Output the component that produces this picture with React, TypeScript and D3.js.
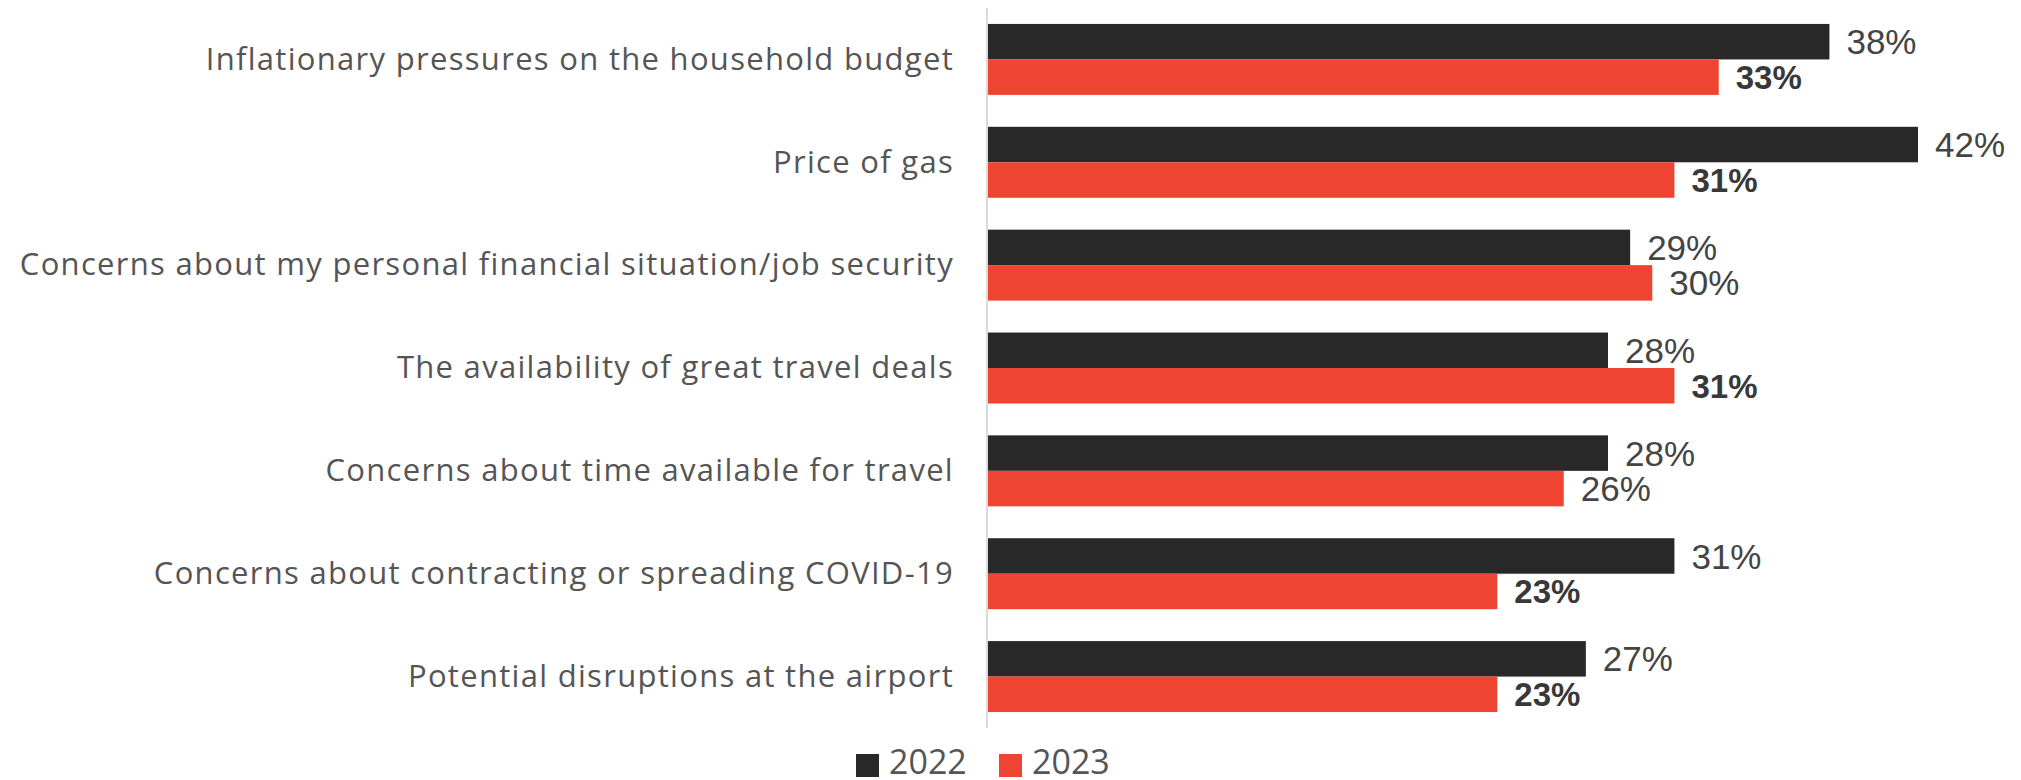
import { useEffect, useRef } from 'react';
import * as d3 from 'd3';

const categories = [
  'Inflationary pressures on the household budget',
  'Price of gas',
  'Concerns about my personal financial situation/job security',
  'The availability of great travel deals',
  'Concerns about time available for travel',
  'Concerns about contracting or spreading COVID-19',
  'Potential disruptions at the airport',
];
const values2022 = [38, 42, 29, 28, 28, 31, 27];
const values2023 = [33, 31, 30, 31, 26, 23, 23];
// 2023 labels shown in bold in the source
const bold2023 = [true, true, false, true, false, true, true];
const seriesNames = ['2022', '2023'];
const seriesColors = ['#282828', '#ee4431'];

const App = () => {
  const chartRef = useRef<SVGSVGElement>(null);

  useEffect(() => {
    if (!chartRef.current) return;
    d3.select(chartRef.current).selectAll('*').remove();

    const width = 2021;
    const height = 780;
    const labelFont = '"Open Sans", "DejaVu Sans", sans-serif';
    const valueFont = '"Liberation Sans", Arial, sans-serif';

    const svg = d3.select(chartRef.current).attr('width', width).attr('height', height);

    const y = d3.scaleBand<string>().domain(categories).range([8, 728]).paddingInner(0.31).paddingOuter(0.155);
    const sub = d3.scaleBand<string>().domain(seriesNames).range([0, y.bandwidth()]);
    const x = d3.scaleLinear().domain([0, 42]).range([988, 1918]);

    const rows = categories.map((c, i) => ({
      cat: c,
      vals: [values2022[i], values2023[i]],
      bold: [false, bold2023[i]],
    }));

    // axis line
    svg
      .append('line')
      .attr('x1', 987)
      .attr('x2', 987)
      .attr('y1', 8)
      .attr('y2', 728)
      .attr('stroke', '#dadada')
      .attr('stroke-width', 2);

    const g = svg
      .selectAll('g.row')
      .data(rows)
      .join('g')
      .attr('class', 'row')
      .attr('transform', (d) => `translate(0,${y(d.cat)})`);

    // category labels
    g.append('text')
      .attr('x', 954)
      .attr('y', y.bandwidth() / 2)
      .attr('dy', '0.33em')
      .attr('text-anchor', 'end')
      .attr('font-family', labelFont)
      .attr('font-size', 31)
      .attr('letter-spacing', 1.3)
      .attr('fill', '#555')
      .text((d) => d.cat);

    seriesNames.forEach((s, si) => {
      g.append('rect')
        .attr('x', x(0))
        .attr('y', sub(s)!)
        .attr('width', (d) => x(d.vals[si]) - x(0))
        .attr('height', sub.bandwidth())
        .attr('fill', seriesColors[si]);

      g.append('text')
        .attr('x', (d) => x(d.vals[si]) + 17)
        .attr('y', sub(s)! + sub.bandwidth() / 2)
        .attr('dy', '0.36em')
        .attr('font-family', valueFont)
        .attr('font-size', (d) => (d.bold[si] ? 33 : 35))
        .attr('font-weight', (d) => (d.bold[si] ? 700 : 400))
        .attr('fill', (d) => (d.bold[si] ? '#383838' : '#444'))
        .text((d) => `${d.vals[si]}%`);
    });

    // legend
    const legendX = [856, 999];
    const legend = svg
      .selectAll('g.legend')
      .data(seriesNames)
      .join('g')
      .attr('class', 'legend')
      .attr('transform', (_d, i) => `translate(${legendX[i]},754)`);
    legend
      .append('rect')
      .attr('width', 23)
      .attr('height', 23)
      .attr('fill', (_d, i) => seriesColors[i]);
    legend
      .append('text')
      .attr('x', 33)
      .attr('y', 20)
      .attr('font-family', labelFont)
      .attr('font-size', 34)
      .attr('fill', '#555')
      .text((d) => d);
  }, []);

  return <svg ref={chartRef} style={{ position: 'absolute', left: 0, top: 0 }} />;
};

export default App;
